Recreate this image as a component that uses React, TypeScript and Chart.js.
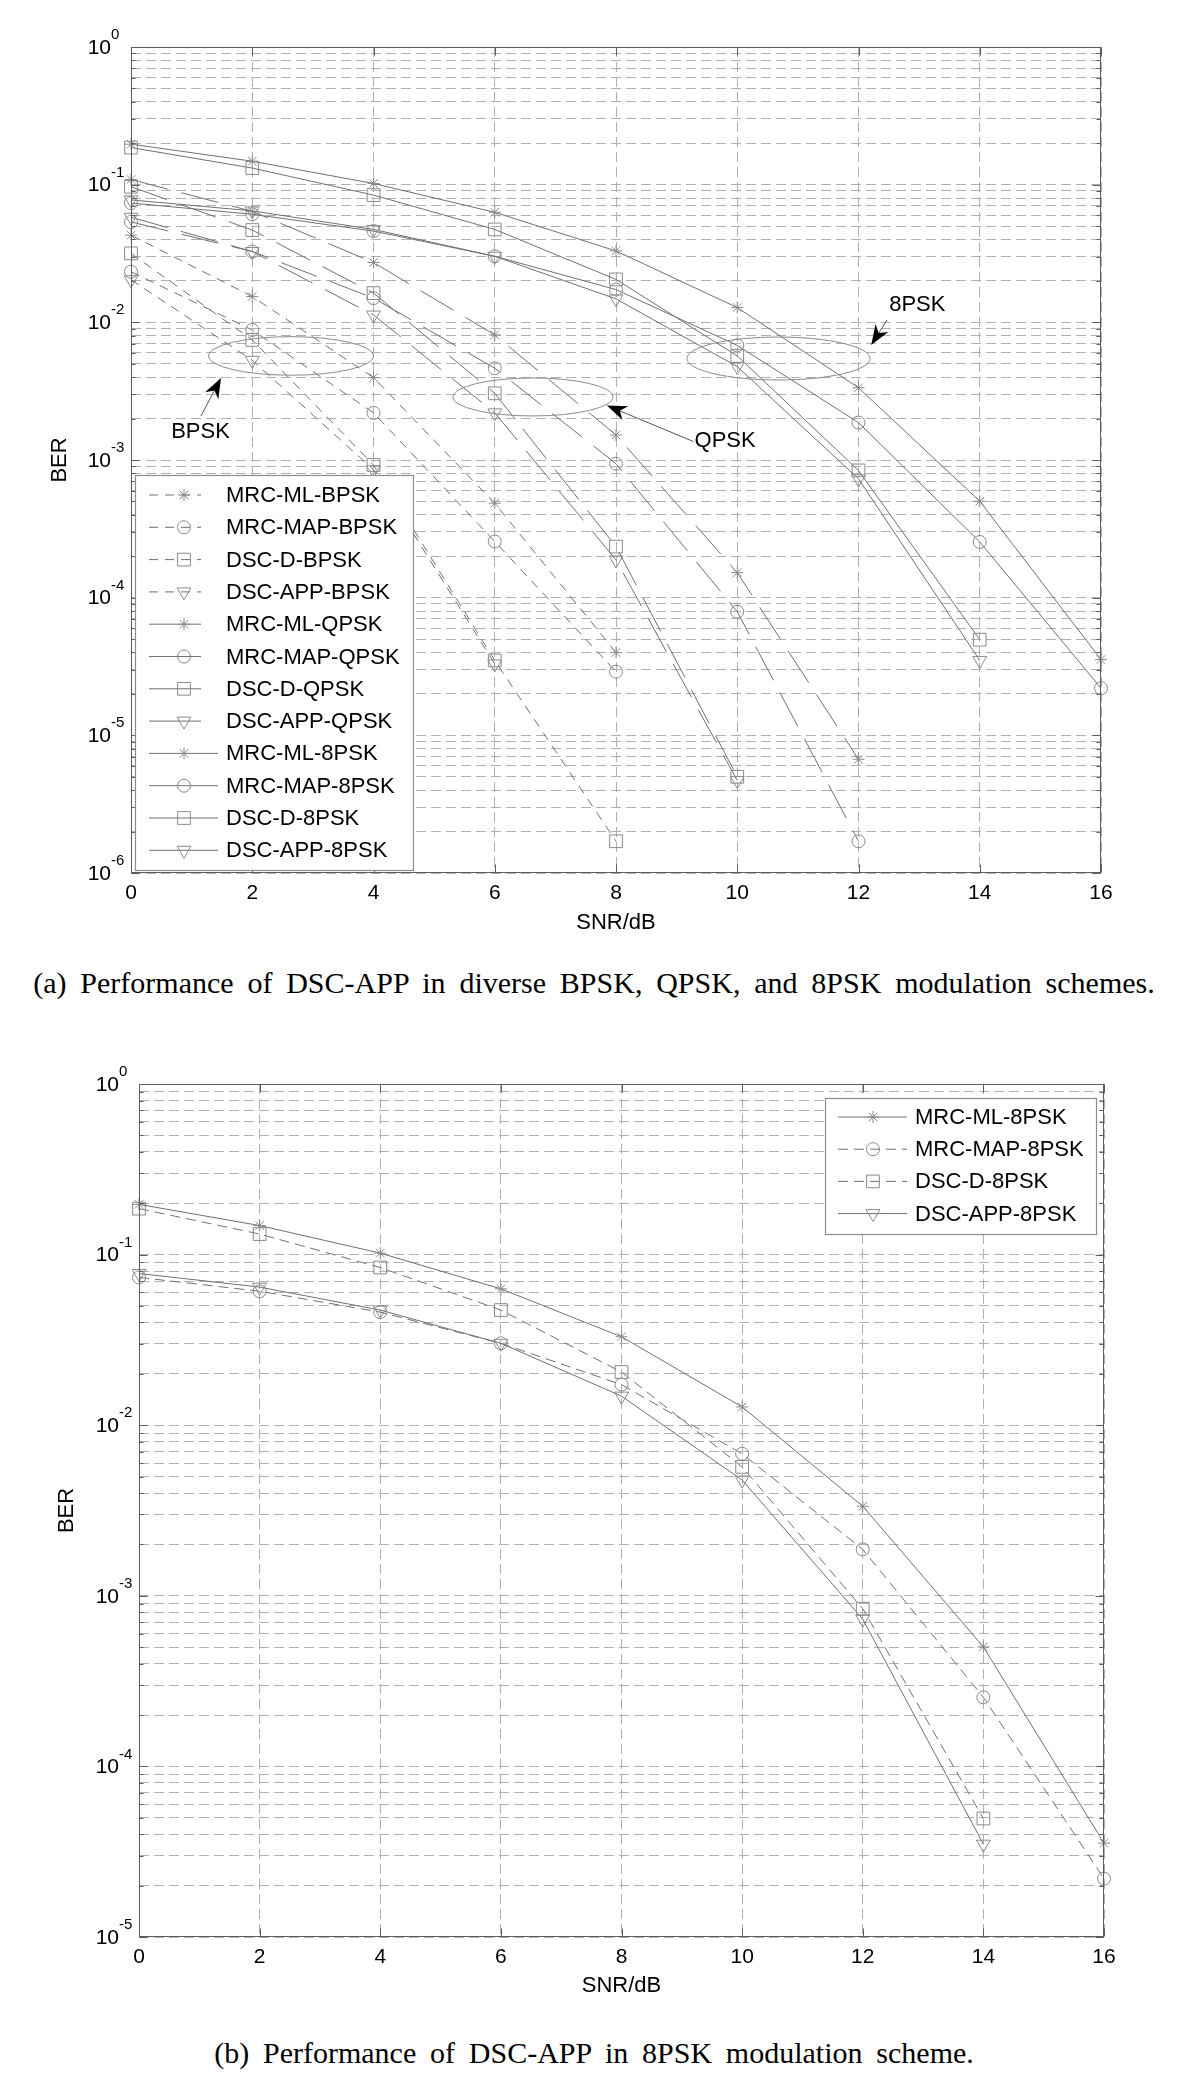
import React, { useEffect, useRef } from 'react';
import { Chart, registerables } from 'chart.js';
import { drawPoint } from 'chart.js/helpers';

Chart.register(...registerables);

const SANS = "'Liberation Sans', Arial, Helvetica, sans-serif";
const SERIF = "'Liberation Serif', 'Times New Roman', Times, serif";

// ---------------- data ----------------
const snrDb = [0, 2, 4, 6, 8, 10, 12, 14, 16];
const xTickValues = [0, 2, 4, 6, 8, 10, 12, 14, 16];
const decadesTop = [0, -1, -2, -3, -4, -5, -6];
const decadesBottom = [0, -1, -2, -3, -4, -5];

// BPSK
const berMrcMlBpsk = [0.043, 0.0154, 0.00397, 0.000485, 4.0e-5];
const berMrcMapBpsk = [0.0233, 0.0088, 0.0022, 0.000256, 2.9e-5];
const berDscDBpsk = [0.0317, 0.00745, 0.00092, 3.5e-5, 1.7e-6];
const berDscAppBpsk = [0.0204, 0.0053, 0.00085, 3.3e-5];
// QPSK
const berMrcMlQpsk = [0.109, 0.064, 0.0272, 0.0081, 0.00152, 0.000152, 6.7e-6];
const berMrcMapQpsk = [0.0536, 0.0327, 0.015, 0.00464, 0.00094, 7.9e-5, 1.7e-6];
const berDscDQpsk = [0.0966, 0.0468, 0.0163, 0.00305, 0.000235, 5.0e-6];
const berDscAppQpsk = [0.058, 0.0327, 0.0113, 0.0022, 0.000188, 4.7e-6];
// 8PSK
const berMrcMl8psk = [0.197, 0.148, 0.102, 0.063, 0.033, 0.0128, 0.00335, 0.000502, 3.55e-5];
const berMrcMap8psk = [0.0735, 0.061, 0.046, 0.0302, 0.0173, 0.0068, 0.00187, 0.000254, 2.2e-5];
const berDscD8psk = [0.186, 0.132, 0.084, 0.0473, 0.0205, 0.0057, 0.00084, 4.95e-5];
const berDscApp8psk = [0.0775, 0.0645, 0.0473, 0.0302, 0.0148, 0.00477, 0.00073, 3.5e-5];

const namesTop = [
  'MRC-ML-BPSK', 'MRC-MAP-BPSK', 'DSC-D-BPSK', 'DSC-APP-BPSK',
  'MRC-ML-QPSK', 'MRC-MAP-QPSK', 'DSC-D-QPSK', 'DSC-APP-QPSK',
  'MRC-ML-8PSK', 'MRC-MAP-8PSK', 'DSC-D-8PSK', 'DSC-APP-8PSK',
];
const namesBottom = ['MRC-ML-8PSK', 'MRC-MAP-8PSK', 'DSC-D-8PSK', 'DSC-APP-8PSK'];

// annotations (top chart), in data units
const annotationLabels = ['BPSK', 'QPSK', '8PSK'];
const ellipseSnr = [2.64, 6.63, 10.68];
const ellipseBer = [0.0057, 0.00287, 0.00546];
const ellipseHalfWidthDb = [1.36, 1.32, 1.51];
const ellipseHalfHeightDecades = [0.14, 0.138, 0.156];
const arrowTailSnr = [1.155, 9.28, 12.47];
const arrowTailBer = [0.00209, 0.00136, 0.0104];
const arrowTipSnr = [1.485, 7.85, 12.21];
const arrowTipBer = [0.00394, 0.00249, 0.00685];
const labelSnr = [1.146, 9.8, 12.97];
const labelBer = [0.0016, 0.001374, 0.01336];

const captionA = '(a) Performance of DSC-APP in diverse BPSK, QPSK, and 8PSK modulation schemes.';
const captionB = '(b) Performance of DSC-APP in 8PSK modulation scheme.';

// ---------------- styles ----------------
const LINE_COLOR = '#707070';
const MARKER_COLOR = '#8a8a8a';
const GRID_COLOR = '#b0b0b0';
const FRAME_COLOR = '#5c5c5c';
const DASH_SHORT = [9, 7];
const DASH_LONG = [38, 14];
const DASH_MED = [10, 6];
const SOLID: number[] = [];

const markerRadius: Record<string, number> = { star: 6, circle: 6.5, rect: 9, triangle: 8 };

function makeDataset(label: string, values: number[], marker: string, dash: number[], legendDash: number[]) {
  return {
    label,
    data: values.map((v, i) => ({ x: snrDb[i], y: v })),
    borderColor: LINE_COLOR,
    borderWidth: 1,
    borderDash: dash,
    pointStyle: marker,
    pointRadius: markerRadius[marker],
    pointRotation: marker === 'triangle' ? 180 : 0,
    pointBorderColor: MARKER_COLOR,
    pointBackgroundColor: 'rgba(0,0,0,0)',
    pointBorderWidth: 1,
    fill: false,
    tension: 0,
    clip: false,
    legendDash,
  };
}

// ---------------- plugins ----------------
const framePlugin = {
  id: 'frame',
  afterDraw(chart: any) {
    const { ctx, chartArea } = chart;
    const l = Math.round(chartArea.left) + 0.5;
    const t = Math.round(chartArea.top) + 0.5;
    const r = Math.round(chartArea.right) - 0.5;
    const b = Math.round(chartArea.bottom) - 0.5;
    ctx.save();
    ctx.strokeStyle = FRAME_COLOR;
    ctx.lineWidth = 1;
    ctx.setLineDash([]);
    ctx.strokeRect(l, t, r - l, b - t);
    ctx.beginPath();
    const xs = chart.scales.x;
    for (const tk of xs.ticks) {
      const px = Math.round(xs.getPixelForValue(tk.value)) + 0.5;
      ctx.moveTo(px, b); ctx.lineTo(px, b - 8);
      ctx.moveTo(px, t); ctx.lineTo(px, t + 8);
    }
    const ys = chart.scales.y;
    for (const tk of ys.ticks) {
      const py = Math.round(ys.getPixelForValue(tk.value)) + 0.5;
      const major = Math.abs(Math.log10(tk.value) - Math.round(Math.log10(tk.value))) < 1e-6;
      const len = major ? 8 : 4;
      ctx.moveTo(l, py); ctx.lineTo(l + len, py);
      ctx.moveTo(r, py); ctx.lineTo(r - len, py);
    }
    ctx.stroke();
    ctx.restore();
  },
};

const logLabelPlugin = {
  id: 'logLabels',
  afterDraw(chart: any, _a: any, opts: any) {
    const { ctx, chartArea } = chart;
    const ys = chart.scales.y;
    ctx.save();
    ctx.fillStyle = '#000';
    for (const e of opts.decades as number[]) {
      const y = ys.getPixelForValue(Math.pow(10, e));
      const xBase = chartArea.left - 20;
      ctx.font = `21px ${SANS}`;
      ctx.textAlign = 'right';
      ctx.textBaseline = 'middle';
      ctx.fillText('10', xBase, y + 1);
      ctx.font = `15px ${SANS}`;
      ctx.textAlign = 'left';
      ctx.fillText(String(e), xBase, y - 12);
    }
    ctx.restore();
  },
};

const boxLegendPlugin = {
  id: 'boxLegend',
  afterDraw(chart: any, _a: any, opts: any) {
    const { ctx } = chart;
    const { left, top, width, height, rowStart, rowGap, lineStart, lineEnds, markerX, textX } = opts;
    ctx.save();
    ctx.fillStyle = '#ffffff';
    ctx.fillRect(left, top, width, height);
    ctx.strokeStyle = '#8c8c8c';
    ctx.lineWidth = 1.2;
    ctx.setLineDash([]);
    ctx.strokeRect(left + 0.5, top + 0.5, width, height);
    chart.data.datasets.forEach((ds: any, i: number) => {
      const y = top + rowStart + i * rowGap;
      ctx.strokeStyle = ds.borderColor;
      ctx.lineWidth = 1;
      ctx.setLineDash(ds.legendDash);
      ctx.beginPath();
      ctx.moveTo(left + lineStart, y);
      ctx.lineTo(left + lineEnds[i], y);
      ctx.stroke();
      ctx.setLineDash([]);
      ctx.strokeStyle = ds.pointBorderColor;
      ctx.fillStyle = 'rgba(0,0,0,0)';
      drawPoint(ctx, {
        pointStyle: ds.pointStyle,
        rotation: ds.pointRotation,
        radius: ds.pointRadius,
        borderWidth: 1,
      } as any, left + markerX, y);
      ctx.fillStyle = '#000';
      ctx.font = `22px ${SANS}`;
      ctx.textAlign = 'left';
      ctx.textBaseline = 'middle';
      ctx.fillText(ds.label, left + textX, y + 1);
    });
    ctx.restore();
  },
};

const annotationPlugin = {
  id: 'groupNotes',
  afterDatasetsDraw(chart: any) {
    const { ctx } = chart;
    const xs = chart.scales.x;
    const ys = chart.scales.y;
    ctx.save();
    annotationLabels.forEach((lab, i) => {
      const cx = xs.getPixelForValue(ellipseSnr[i]);
      const cy = ys.getPixelForValue(ellipseBer[i]);
      const rx = xs.getPixelForValue(ellipseSnr[i] + ellipseHalfWidthDb[i]) - cx;
      const ry = cy - ys.getPixelForValue(ellipseBer[i] * Math.pow(10, ellipseHalfHeightDecades[i]));
      ctx.strokeStyle = '#8a8a8a';
      ctx.lineWidth = 1;
      ctx.setLineDash([]);
      ctx.beginPath();
      ctx.ellipse(cx, cy, rx, ry, 0, 0, Math.PI * 2);
      ctx.stroke();

      const x0 = xs.getPixelForValue(arrowTailSnr[i]);
      const y0 = ys.getPixelForValue(arrowTailBer[i]);
      const x1 = xs.getPixelForValue(arrowTipSnr[i]);
      const y1 = ys.getPixelForValue(arrowTipBer[i]);
      const dx = x1 - x0, dy = y1 - y0;
      const len = Math.hypot(dx, dy);
      const ux = dx / len, uy = dy / len;
      const nx = -uy, ny = ux;
      const L = 20, W = 7.5, notch = 6;
      ctx.strokeStyle = '#555';
      ctx.beginPath();
      ctx.moveTo(x0, y0);
      ctx.lineTo(x1 - ux * (L - notch), y1 - uy * (L - notch));
      ctx.stroke();
      ctx.fillStyle = '#000';
      ctx.beginPath();
      ctx.moveTo(x1, y1);
      ctx.lineTo(x1 - ux * L + nx * W, y1 - uy * L + ny * W);
      ctx.lineTo(x1 - ux * (L - notch), y1 - uy * (L - notch));
      ctx.lineTo(x1 - ux * L - nx * W, y1 - uy * L - ny * W);
      ctx.closePath();
      ctx.fill();

      ctx.fillStyle = '#000';
      ctx.font = `22px ${SANS}`;
      ctx.textAlign = 'center';
      ctx.textBaseline = 'middle';
      ctx.fillText(lab, xs.getPixelForValue(labelSnr[i]), ys.getPixelForValue(labelBer[i]));
    });
    ctx.restore();
  },
};

// ---------------- chart factory ----------------
function logTicks(minExp: number) {
  const ticks: { value: number }[] = [];
  for (let e = minExp; e < 0; e++) {
    for (let m = 1; m <= 9; m++) ticks.push({ value: Number((m * Math.pow(10, e)).toPrecision(6)) });
  }
  ticks.push({ value: 1 });
  return ticks;
}

function buildOptions(cfg: any) {
  const tickFont = { family: SANS, size: 21 };
  const titleFont = { family: SANS, size: 22 };
  return {
    animation: false,
    responsive: false,
    maintainAspectRatio: false,
    events: [],
    layout: { padding: { left: 0, right: cfg.padRight, top: cfg.padTop, bottom: 0 } },
    plugins: {
      legend: { display: false },
      tooltip: { enabled: false },
      logLabels: { decades: cfg.decades },
      boxLegend: cfg.legend,
    },
    scales: {
      x: {
        type: 'linear',
        min: 0,
        max: 16,
        afterBuildTicks: (s: any) => { s.ticks = xTickValues.map((v) => ({ value: v })); },
        afterFit: (s: any) => { s.height = cfg.xAxisHeight; },
        grid: { color: GRID_COLOR, lineWidth: 1, drawTicks: false },
        border: { display: false, dash: [10, 5] },
        ticks: { font: tickFont, color: '#000', padding: 8, maxRotation: 0, autoSkip: false },
        title: { display: true, text: 'SNR/dB', font: titleFont, color: '#000', padding: { top: 0, bottom: cfg.xTitlePad } },
      },
      y: {
        type: 'logarithmic',
        min: Math.pow(10, cfg.minExp),
        max: 1,
        afterBuildTicks: (s: any) => { s.ticks = logTicks(cfg.minExp); },
        afterFit: (s: any) => { s.width = cfg.yAxisWidth; },
        grid: { color: GRID_COLOR, lineWidth: 1, drawTicks: false },
        border: { display: false, dash: [10, 5] },
        ticks: { display: false },
        title: { display: true, text: 'BER', font: titleFont, color: '#000', padding: { top: cfg.yTitlePad, bottom: 0 } },
      },
    },
  };
}

function topDatasets() {
  return [
    makeDataset(namesTop[0], berMrcMlBpsk, 'star', DASH_SHORT, DASH_SHORT),
    makeDataset(namesTop[1], berMrcMapBpsk, 'circle', DASH_SHORT, DASH_SHORT),
    makeDataset(namesTop[2], berDscDBpsk, 'rect', DASH_SHORT, DASH_SHORT),
    makeDataset(namesTop[3], berDscAppBpsk, 'triangle', DASH_SHORT, DASH_SHORT),
    makeDataset(namesTop[4], berMrcMlQpsk, 'star', DASH_LONG, SOLID),
    makeDataset(namesTop[5], berMrcMapQpsk, 'circle', DASH_LONG, SOLID),
    makeDataset(namesTop[6], berDscDQpsk, 'rect', DASH_LONG, SOLID),
    makeDataset(namesTop[7], berDscAppQpsk, 'triangle', DASH_LONG, SOLID),
    makeDataset(namesTop[8], berMrcMl8psk, 'star', SOLID, SOLID),
    makeDataset(namesTop[9], berMrcMap8psk, 'circle', SOLID, SOLID),
    makeDataset(namesTop[10], berDscD8psk, 'rect', SOLID, SOLID),
    makeDataset(namesTop[11], berDscApp8psk, 'triangle', SOLID, SOLID),
  ];
}

function bottomDatasets() {
  return [
    makeDataset(namesBottom[0], berMrcMl8psk, 'star', SOLID, SOLID),
    makeDataset(namesBottom[1], berMrcMap8psk, 'circle', DASH_MED, DASH_MED),
    makeDataset(namesBottom[2], berDscD8psk, 'rect', DASH_MED, DASH_MED),
    makeDataset(namesBottom[3], berDscApp8psk, 'triangle', SOLID, SOLID),
  ];
}

function ChartCanvas(props: { top: number; height: number; make: () => any }) {
  const ref = useRef<HTMLCanvasElement | null>(null);
  useEffect(() => {
    if (!ref.current) return;
    const chart = new Chart(ref.current, props.make());
    return () => chart.destroy();
  }, []);
  return (
    <canvas
      ref={ref}
      width={1200}
      height={props.height}
      style={{ position: 'absolute', left: 0, top: props.top, width: 1200, height: props.height }}
    />
  );
}

const makeTop = () => ({
  type: 'line',
  data: { datasets: topDatasets() },
  options: buildOptions({
    padRight: 99,
    padTop: 47,
    xAxisHeight: 77,
    yAxisWidth: 131,
    xTitlePad: 14,
    yTitlePad: 47,
    minExp: -6,
    decades: decadesTop,
    legend: {
      left: 135, top: 475, width: 278, height: 395,
      rowStart: 20, rowGap: 32.3, lineStart: 14,
      lineEnds: [66, 66, 66, 66, 66, 66, 66, 66, 83, 83, 83, 83],
      markerX: 49, textX: 91,
    },
  }),
  plugins: [annotationPlugin, framePlugin, boxLegendPlugin, logLabelPlugin],
});

const makeBottom = () => ({
  type: 'line',
  data: { datasets: bottomDatasets() },
  options: buildOptions({
    padRight: 96,
    padTop: 44,
    xAxisHeight: 78,
    yAxisWidth: 139,
    xTitlePad: 16,
    yTitlePad: 54,
    minExp: -5,
    decades: decadesBottom,
    legend: {
      left: 825, top: 58, width: 271, height: 136,
      rowStart: 19, rowGap: 32.2, lineStart: 13,
      lineEnds: [82, 82, 82, 82],
      markerX: 48, textX: 90,
    },
  }),
  plugins: [framePlugin, boxLegendPlugin, logLabelPlugin],
});

const captionStyle = (top: number): React.CSSProperties => ({
  position: 'absolute',
  left: 0,
  top,
  width: 1188,
  textAlign: 'center',
  fontFamily: SERIF,
  fontSize: 30,
  lineHeight: '36px',
  wordSpacing: '6.3px',
  color: '#000',
  whiteSpace: 'nowrap',
});

export default function App() {
  return (
    <div style={{ position: 'absolute', left: 0, top: 0, width: 1200, height: 2091, background: '#fff', overflow: 'hidden' }}>
      <ChartCanvas top={0} height={950} make={makeTop} />
      <div style={captionStyle(965)}>{captionA}</div>
      <ChartCanvas top={1040} height={975} make={makeBottom} />
      <div style={captionStyle(2035)}>{captionB}</div>
    </div>
  );
}
